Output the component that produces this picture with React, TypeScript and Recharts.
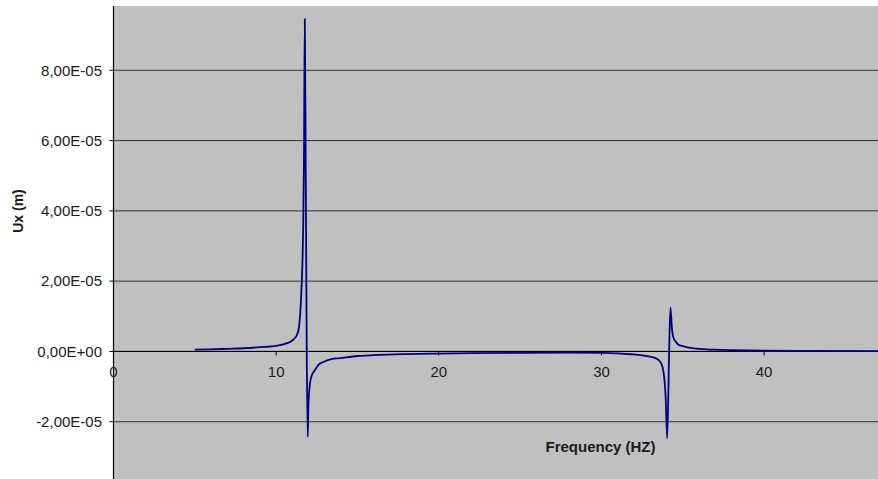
import React from 'react';
import {
  LineChart,
  Line,
  XAxis,
  YAxis,
  CartesianGrid,
  ReferenceLine,
  ReferenceDot,
} from 'recharts';

// Frequency (Hz)
const freq: number[] = [
  5.0, 6.0, 7.0, 8.0, 9.0, 10.0, 10.5, 10.85, 11.1, 11.27, 11.4, 11.49, 11.55, 11.6, 11.66, 11.71,
  11.76, 11.82, 11.88, 11.94, 11.98, 12.08, 12.2, 12.39, 12.6, 12.9, 13.4, 13.93, 15.0, 16.0, 18.0,
  20.0, 22.0, 25.0, 28.0, 30.0, 31.0, 31.8, 32.5, 33.0, 33.3, 33.5, 33.71, 33.86, 33.94, 34.04,
  34.16, 34.24, 34.33, 34.43, 34.6, 34.74, 35.0, 35.46, 36.0, 36.87, 38.0, 40.0, 43.0, 47.0,
];

// Ux (m)
const ux: number[] = [
  0.05e-5, 0.06e-5, 0.075e-5, 0.09e-5, 0.12e-5, 0.16e-5, 0.21e-5, 0.27e-5, 0.36e-5, 0.46e-5,
  0.68e-5, 1.15e-5, 1.7e-5, 2.3e-5, 3.5e-5, 5.5e-5,
  9.46e-5, 5.0e-5, 0.0, -2.43e-5, -1.57e-5, -0.91e-5, -0.67e-5, -0.53e-5, -0.38e-5, -0.3e-5,
  -0.22e-5, -0.19e-5, -0.13e-5, -0.105e-5, -0.077e-5,
  -0.062e-5, -0.05e-5, -0.04e-5, -0.035e-5, -0.04e-5, -0.055e-5, -0.08e-5, -0.11e-5, -0.15e-5,
  -0.19e-5, -0.24e-5, -0.38e-5, -0.76e-5, -1.24e-5, -2.47e-5,
  0.0, 1.25e-5, 0.66e-5, 0.38e-5, 0.26e-5, 0.19e-5, 0.15e-5, 0.1e-5, 0.07e-5, 0.05e-5, 0.035e-5,
  0.02e-5, 0.015e-5, 0.01e-5,
];

const yTicks: number[] = [-2e-5, 0, 2e-5, 4e-5, 6e-5, 8e-5];
const xTicks: number[] = [0, 10, 20, 30, 40];
const xDomain: [number, number] = [0, 47];
const yDomain: [number, number] = [-4e-5, 9.83e-5];

const xTitle = 'Frequency (HZ)';
const yTitle = 'Ux (m)';

const data = freq.map((f, i) => ({ f, u: ux[i] }));

const FONT = "'Liberation Sans', Arial, sans-serif";
const TEXT = '#1a1a1a';

const fmtSci = (v: number): string => {
  if (v === 0) return '0,00E+00';
  const [m, e] = v.toExponential(2).split('e');
  const en = parseInt(e, 10);
  return m.replace('.', ',') + 'E' + (en < 0 ? '-' : '+') + String(Math.abs(en)).padStart(2, '0');
};

const XTickShape = (label: string) => (props: any) => {
  const { cx, cy } = props;
  return (
    <g>
      <line x1={cx} y1={cy} x2={cx} y2={cy + 4} stroke="#000" strokeWidth={1} />
      <text x={cx} y={cy + 26} textAnchor="middle" fontSize={15} fontFamily={FONT} fill={TEXT}>
        {label}
      </text>
    </g>
  );
};

export default function App() {
  return (
    <div
      style={{
        position: 'absolute',
        left: 0,
        top: 0,
        width: 878,
        height: 479,
        overflow: 'hidden',
        background: '#fff',
      }}
    >
      <LineChart
        width={878}
        height={500}
        data={data}
        margin={{ top: 6, right: 0, left: 0, bottom: 8 }}
      >
        <CartesianGrid
          horizontal
          vertical={false}
          fill="#C0C0C0"
          stroke="#333"
          strokeWidth={1}
          horizontalValues={yTicks}
        />
        <XAxis dataKey="f" type="number" domain={xDomain} hide allowDataOverflow />
        <YAxis
          type="number"
          domain={yDomain}
          ticks={yTicks}
          allowDataOverflow
          width={113.5}
          tickFormatter={fmtSci}
          axisLine={{ stroke: '#000', strokeWidth: 1.2 }}
          tickLine={{ stroke: '#000' }}
          tickSize={4}
          tickMargin={7.5}
          tick={{ fontSize: 15, fontFamily: FONT, fill: TEXT }}
          interval={0}
        />
        <ReferenceLine y={0} stroke="#000" strokeWidth={1} ifOverflow="visible" />
        {xTicks.map((t) => (
          <ReferenceDot
            key={t}
            x={t}
            y={0}
            r={0}
            ifOverflow="visible"
            shape={XTickShape(String(t))}
          />
        ))}
        <Line
          type="monotone"
          dataKey="u"
          stroke="#000080"
          strokeWidth={1.8}
          dot={false}
          isAnimationActive={false}
        />
      </LineChart>
      <svg
        width={878}
        height={479}
        style={{ position: 'absolute', left: 0, top: 0, pointerEvents: 'none' }}
      >
        <text
          x={600.5}
          y={451.7}
          textAnchor="middle"
          fontSize={15}
          fontWeight="bold"
          fontFamily={FONT}
          fill={TEXT}
        >
          {xTitle}
        </text>
        <text
          x={23}
          y={211}
          transform="rotate(-90 23 211)"
          textAnchor="middle"
          fontSize={14}
          fontWeight="bold"
          fontFamily={FONT}
          fill={TEXT}
        >
          {yTitle}
        </text>
      </svg>
    </div>
  );
}
